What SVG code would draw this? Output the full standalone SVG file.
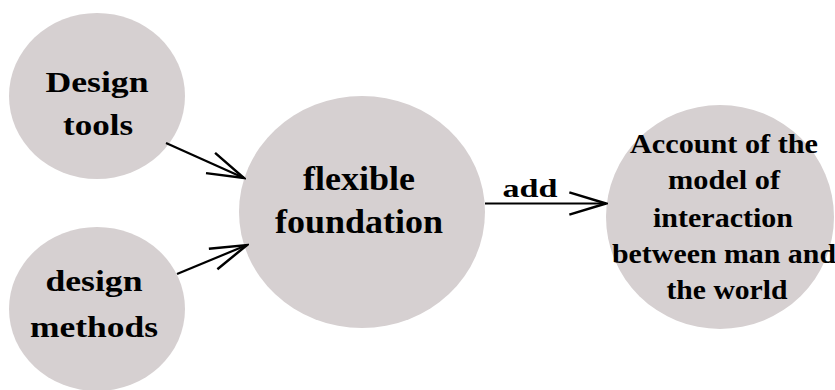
<svg xmlns="http://www.w3.org/2000/svg" width="835" height="390" viewBox="0 0 835 390">
<defs>
<style>
.node{fill:#d6d0d1;}
.conn{stroke:#000;stroke-width:2.2;fill:none;}
</style>
<marker id="arr" markerUnits="userSpaceOnUse" markerWidth="40" markerHeight="30" viewBox="-34 -12 36 24" refX="0" refY="0" orient="auto">
<path d="M-33,-10 L0,0 L-33,10" fill="none" stroke="#000" stroke-width="2.2"/>
</marker>
</defs>
<rect width="835" height="390" fill="#fff"/>
<g font-family="Liberation Serif, Times New Roman, serif" font-weight="bold" fill="#000" text-anchor="middle">
<g id="node-design-tools">
<ellipse class="node" cx="97" cy="96" rx="88" ry="83"/>
<text x="97" y="92" font-size="30" textLength="103" lengthAdjust="spacingAndGlyphs">Design</text>
<text x="98" y="135" font-size="30" textLength="70" lengthAdjust="spacingAndGlyphs">tools</text>
</g>
<g id="node-design-methods">
<ellipse class="node" cx="97" cy="309" rx="88" ry="82"/>
<text x="94" y="291" font-size="30" textLength="97" lengthAdjust="spacingAndGlyphs">design</text>
<text x="94" y="337" font-size="30" textLength="128" lengthAdjust="spacingAndGlyphs">methods</text>
</g>
<g id="node-flexible-foundation">
<ellipse class="node" cx="362" cy="212" rx="123" ry="116"/>
<text x="359" y="190" font-size="33" textLength="112" lengthAdjust="spacingAndGlyphs">flexible</text>
<text x="359" y="233" font-size="33" textLength="168" lengthAdjust="spacingAndGlyphs">foundation</text>
</g>
<g id="node-account">
<ellipse class="node" cx="720" cy="217" rx="114" ry="112"/>
<text x="724" y="153" font-size="27" textLength="188" lengthAdjust="spacingAndGlyphs">Account of the</text>
<text x="724" y="189" font-size="27" textLength="112" lengthAdjust="spacingAndGlyphs">model of</text>
<text x="723" y="227" font-size="27" textLength="140" lengthAdjust="spacingAndGlyphs">interaction</text>
<text x="724" y="263" font-size="27" textLength="224" lengthAdjust="spacingAndGlyphs">between man and</text>
<text x="727" y="299" font-size="27" textLength="121" lengthAdjust="spacingAndGlyphs">the world</text>
</g>
<g id="connectors">
<line class="conn" x1="166" y1="143" x2="244" y2="178" marker-end="url(#arr)"/>
<line class="conn" x1="177" y1="274" x2="247" y2="245" marker-end="url(#arr)"/>
<line class="conn" x1="485" y1="203.5" x2="606" y2="203.5" marker-end="url(#arr)"/>
<text x="530" y="197" font-size="26" textLength="55" lengthAdjust="spacingAndGlyphs">add</text>
</g>
</g>
</svg>
